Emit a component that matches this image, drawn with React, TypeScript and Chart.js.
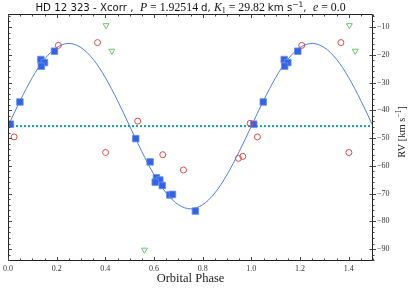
import React, { useEffect, useRef } from 'react';
import { Chart, registerables } from 'chart.js';

Chart.register(...registerables);

// ---- data ----
const STAR = 'HD 12 323 - Xcorr';
const PERIOD = '1.92514';
const K1 = '29.82';
const ECC = '0.0';
const GAMMA = -45.7;

const BLUE_PHASE = [0.010, 0.049, 0.135, 0.150, 0.137, 0.191, 0.525, 0.584, 0.610, 0.624, 0.605, 0.634, 0.665, 0.676, 0.770];
const BLUE_RV = [-45.0, -37.0, -21.7, -22.8, -24.1, -18.7, -50.2, -58.6, -64.3, -65.1, -65.9, -67.1, -70.5, -70.3, -76.3];

const RED_PHASE = [0.025, 0.207, 0.368, 0.401, 0.533, 0.636, 0.721, 0.947, 0.965, 0.995];
const RED_RV = [-49.6, -16.6, -15.6, -55.2, -43.9, -56.0, -61.5, -57.3, -56.6, -44.7];

const GREEN_PHASE = [0.403, 0.427, 0.561];
const GREEN_RV = [-9.4, -18.6, -90.3];

const MODEL_PHASE = [0, 0.05, 0.1, 0.15, 0.2, 0.25, 0.3, 0.35, 0.4, 0.45, 0.5, 0.55, 0.6, 0.65, 0.7, 0.75, 0.8, 0.85, 0.9, 0.95, 1.0, 1.05, 1.1, 1.15, 1.2, 1.25, 1.3, 1.35, 1.4, 1.45, 1.5];
const MODEL_RV = [-45.7, -36.5, -28.2, -21.6, -17.4, -15.9, -17.4, -21.6, -28.2, -36.5, -45.7, -54.9, -63.2, -69.8, -74.0, -75.5, -74.0, -69.8, -63.2, -54.9, -45.7, -36.5, -28.2, -21.6, -17.4, -15.9, -17.4, -21.6, -28.2, -36.5, -45.7];

const X_TICKS = [0, 0.2, 0.4, 0.6, 0.8, 1.0, 1.2, 1.4];
const Y_TICKS = [-90, -80, -70, -60, -50, -40, -30, -20, -10];
const X_MIN = 0;
const X_MAX = 1.5;
const Y_MIN = -94.3;
const Y_MAX = -5.3;

// points shown twice: at phase and phase + 1 (within the axis range)
function fold(ph: number[], rv: number[]) {
  const out: { x: number; y: number }[] = [];
  ph.forEach((p, i) => out.push({ x: p, y: rv[i] }));
  ph.forEach((p, i) => {
    if (p + 1 <= X_MAX) out.push({ x: p + 1, y: rv[i] });
  });
  return out;
}

const SERIF = '"Liberation Serif", "DejaVu Serif", serif';
const SANS = '"DejaVu Sans", sans-serif';

const decorPlugin = {
  id: 'decor',
  afterDraw(chart: any) {
    const { ctx, chartArea } = chart;
    const { left, right, top, bottom } = chartArea;
    const xs = chart.scales.x;
    const ys = chart.scales.y;
    ctx.save();
    ctx.strokeStyle = '#222';
    ctx.lineWidth = 1;
    const L = Math.round(left) + 0.5;
    const R = Math.round(right) - 0.5;
    const T = Math.round(top) + 0.5;
    const B = Math.round(bottom) - 0.5;
    ctx.beginPath();
    ctx.rect(L, T, R - L, B - T);
    ctx.stroke();

    ctx.strokeStyle = '#444';
    ctx.beginPath();
    // x ticks (top & bottom, inward)
    for (let i = 0; i <= 30; i++) {
      const v = i * 0.05;
      const px = Math.round(xs.getPixelForValue(v)) + 0.5;
      const len = i % 4 === 0 ? 3.5 : 2;
      ctx.moveTo(px, B);
      ctx.lineTo(px, B - len);
      ctx.moveTo(px, T);
      ctx.lineTo(px, T + len);
    }
    // y ticks (left inward, right in/out)
    for (let v = -94; v <= -6; v += 2) {
      const py = Math.round(ys.getPixelForValue(v)) + 0.5;
      const major = v % 10 === 0;
      const len = major ? 3.5 : 2;
      ctx.moveTo(L, py);
      ctx.lineTo(L + len, py);
      ctx.moveTo(R, py);
      ctx.lineTo(R + len, py);
      if (major) {
        ctx.moveTo(R, py);
        ctx.lineTo(R - 3, py);
      }
    }
    ctx.stroke();

    // title
    const segs: { t: string; f: string; dy?: number }[] = [
      { t: STAR + ' ,  ', f: '10.2px ' + SANS },
      { t: 'P', f: 'italic 11.8px ' + SERIF },
      { t: ' = ' + PERIOD + ' ', f: '11.8px ' + SERIF },
      { t: 'd, ', f: '10.2px ' + SANS },
      { t: 'K', f: 'italic 11.8px ' + SERIF },
      { t: '1', f: '8px ' + SERIF, dy: 2 },
      { t: ' = ' + K1 + ' ', f: '11.8px ' + SERIF },
      { t: 'km s', f: '10.2px ' + SANS },
      { t: '\u22121', f: '7.5px ' + SANS, dy: -4.5 },
      { t: ',  ', f: '10.2px ' + SANS },
      { t: 'e', f: 'italic 11.8px ' + SERIF },
      { t: ' = ' + ECC, f: '11.8px ' + SERIF },
    ];
    let total = 0;
    const widths = segs.map((s) => {
      ctx.font = s.f;
      const w = ctx.measureText(s.t).width;
      total += w;
      return w;
    });
    let x = (left + right) / 2 - total / 2;
    ctx.fillStyle = '#111';
    ctx.textBaseline = 'alphabetic';
    ctx.textAlign = 'left';
    segs.forEach((s, i) => {
      ctx.font = s.f;
      ctx.fillText(s.t, x, 11 + (s.dy || 0));
      x += widths[i];
    });

    // x label
    ctx.font = '12.5px ' + SERIF;
    ctx.fillStyle = '#222';
    ctx.textAlign = 'center';
    ctx.fillText('Orbital Phase', (left + right) / 2, 282);

    // y label (rotated)
    const ySegs: { t: string; f: string; dy?: number }[] = [
      { t: 'RV [km s', f: '10.5px ' + SERIF },
      { t: '\u22121', f: '7.5px ' + SERIF, dy: -4 },
      { t: ']', f: '10.5px ' + SERIF },
    ];
    let ytot = 0;
    const yw = ySegs.map((s) => {
      ctx.font = s.f;
      const w = ctx.measureText(s.t).width;
      ytot += w;
      return w;
    });
    ctx.translate(405, 132);
    ctx.rotate(-Math.PI / 2);
    ctx.textAlign = 'left';
    let yx = -ytot / 2;
    ySegs.forEach((s, i) => {
      ctx.font = s.f;
      ctx.fillText(s.t, yx, (s.dy || 0));
      yx += yw[i];
    });
    ctx.restore();
  },
};

export default function App() {
  const ref = useRef<HTMLCanvasElement | null>(null);
  useEffect(() => {
    if (!ref.current) return;
    const chart = new Chart(ref.current, {
      type: 'scatter',
      data: {
        datasets: [
          {
            label: 'model',
            data: MODEL_PHASE.map((p, i) => ({ x: p, y: MODEL_RV[i] })),
            showLine: true,
            borderColor: '#4f7ee8',
            borderWidth: 1,
            pointRadius: 0,
            cubicInterpolationMode: 'monotone',
            fill: false,
            order: 5,
          } as any,
          {
            label: 'gamma',
            data: [
              { x: X_MIN, y: GAMMA },
              { x: X_MAX, y: GAMMA },
            ],
            showLine: true,
            borderColor: '#179d9d',
            borderWidth: 2,
            borderDash: [2, 2],
            pointRadius: 0,
            order: 4,
          } as any,
          {
            label: 'Xcorr',
            data: fold(BLUE_PHASE, BLUE_RV),
            pointStyle: 'rect',
            pointRadius: 4.6,
            backgroundColor: '#3563e0',
            borderColor: 'rgba(100,140,240,0.8)',
            borderWidth: 1,
            order: 3,
          },
          {
            label: 'red',
            data: fold(RED_PHASE, RED_RV),
            pointStyle: 'circle',
            pointRadius: 3,
            backgroundColor: 'rgba(0,0,0,0)',
            borderColor: '#d44c4c',
            borderWidth: 1,
            order: 2,
          },
          {
            label: 'green',
            data: fold(GREEN_PHASE, GREEN_RV),
            pointStyle: 'triangle',
            rotation: 180,
            pointRadius: 3.4,
            backgroundColor: 'rgba(0,0,0,0)',
            borderColor: '#6cc46c',
            borderWidth: 1,
            order: 1,
          } as any,
        ],
      },
      options: {
        responsive: false,
        animation: false,
        devicePixelRatio: 1,
        layout: { padding: { left: 8, top: 14, right: 0, bottom: 0 } },
        plugins: {
          legend: { display: false },
          tooltip: { enabled: false },
          title: { display: false },
        },
        scales: {
          x: {
            type: 'linear',
            position: 'bottom',
            min: X_MIN,
            max: X_MAX,
            grid: { display: false, drawTicks: false },
            border: { display: false },
            ticks: {
              font: { family: SERIF, size: 8 },
              color: '#333',
              padding: 3,
              maxRotation: 0,
              autoSkip: false,
              callback: (v: any) => Number(v).toFixed(1),
            },
            afterBuildTicks: (s: any) => {
              s.ticks = X_TICKS.map((v) => ({ value: v }));
            },
            afterFit: (s: any) => {
              s.height = 27;
            },
          },
          y: {
            type: 'linear',
            position: 'right',
            min: Y_MIN,
            max: Y_MAX,
            grid: { display: false, drawTicks: false },
            border: { display: false },
            ticks: {
              font: { family: SERIF, size: 8 },
              color: '#333',
              padding: 4,
              autoSkip: false,
              callback: (v: any) => (Number(v) < 0 ? '\u2212' : '') + Math.abs(Number(v)),
            },
            afterBuildTicks: (s: any) => {
              s.ticks = Y_TICKS.map((v) => ({ value: v }));
            },
            afterFit: (s: any) => {
              s.width = 42;
            },
          },
        },
      },
      plugins: [decorPlugin],
    });
    return () => chart.destroy();
  }, []);
  return (
    <div style={{ position: 'fixed', left: 0, top: 0, width: 415, height: 288, background: '#fff' }}>
      <canvas ref={ref} width={415} height={288} style={{ display: 'block' }} />
    </div>
  );
}
